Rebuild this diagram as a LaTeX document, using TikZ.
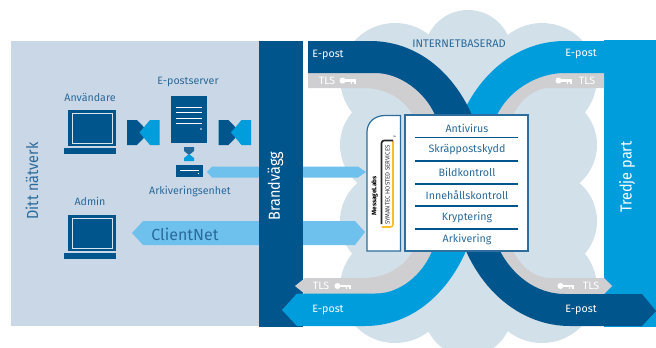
\documentclass[tikz,border=0pt]{standalone}
\usepackage{fontspec}
\setmainfont{Fira Sans}
\newfontfamily\bigf[FakeStretch=0.9]{Fira Sans}
\definecolor{dk}{HTML}{00558C}
\definecolor{lb}{HTML}{009DDC}
\definecolor{sky}{HTML}{6EC1ED}
\definecolor{pan}{HTML}{CAD7E6}
\definecolor{gr}{HTML}{CFCFD1}
\definecolor{cl}{HTML}{D2E0E9}
\definecolor{tx}{HTML}{2A6A9A}
\definecolor{bd}{HTML}{2E6E9E}
\definecolor{gold}{HTML}{F5C02C}
\tikzset{
 lab/.style={text=tx,font=\fontsize{8}{9}\selectfont,inner sep=0pt},
 wlab/.style={text=white,font=\fontsize{8}{9}\selectfont,inner sep=0pt},
 svc/.style={text=tx,font=\fontsize{8}{9}\selectfont,inner sep=0pt},
 big/.style={font=\bigf\fontsize{12}{14}\selectfont,inner sep=0pt,rotate=90},
 sep/.style={dk,line width=1.4pt},
 whl/.style={white,line width=0.7pt}
}
\newcommand{\mylaptop}[2]{% x offset, y offset (reference: top 0 at screen top)
 \begin{scope}[shift={(#1,#2)}]
 \fill[dk] (4,0) rectangle (52,36);
 \draw[white!85!dk,line width=0.6pt] (8,3.5) rectangle (48,33);
 \fill[dk] (0,38) rectangle (52,43.5);
 \end{scope}}
\newcommand{\mytie}[2]{%
 \begin{scope}[shift={(#1,#2)}]
 \fill[dk] (0,0) -- (10,0) -- (22,12.5) -- (10,25) -- (0,25) -- cycle;
 \fill[lb] (32.5,0) -- (23,0) -- (12.5,12.5) -- (23,25) -- (32.5,25) -- cycle;
 \end{scope}}
\newcommand{\keyicon}[2]{%
 \fill[white] (#1-6.5,#2) circle (3);
 \fill[white] (#1-6,#2-1.2) rectangle (#1+6.5,#2+1.2);
 \fill[white] (#1+1.5,#2) rectangle (#1+3.2,#2+3);
 \fill[white] (#1+4.5,#2) rectangle (#1+6.5,#2+3);}
\begin{document}
\begin{tikzpicture}[x=0.75pt,y=-0.75pt]
\useasboundingbox (0,0) rectangle (656,347);
% cloud
\fill[cl] (468,54) circle (44) (395,78) circle (55) (542,78) circle (55)
 (390,145) circle (50) (547,145) circle (50) (390,221) circle (50) (547,221) circle (50)
 (395,288) circle (55) (542,288) circle (55) (468,312) circle (44);
\fill[cl] (380,60) rectangle (560,305);
% left panel
\fill[pan] (11,41) rectangle (259,326);
% right panel
\fill[lb] (604,40) rectangle (656,327);
% sky arrows
\fill[sky] (207,172) -- (212,166.5) -- (358,166.5) -- (366,172) -- (358,177.5) -- (212,177.5) -- cycle;
\fill[sky] (132,233) -- (143,221) -- (355,221) -- (365,232) -- (355,245) -- (143,245) -- cycle;
% firewall
\fill[dk] (259,41) rectangle (303,327);
% gray bands
\fill[gr] (308,73) -- (375,73) .. controls (400,73) and (425,92) .. (435,115) -- (413,115)
 .. controls (403,98) and (385,88) .. (363,88) -- (308,88) -- cycle;
\fill[gr] (604,73) -- (565,73) .. controls (535,73) and (508,92) .. (497,115) -- (513,115)
 .. controls (522,98) and (535,88) .. (550,88) -- (604,88) -- cycle;
\fill[gr] (295,286) -- (305,278) -- (363,278) .. controls (385,278) and (403,268) .. (413,251)
 -- (435,251) .. controls (425,274) and (400,294) .. (375,294) -- (305,294) -- cycle;
\fill[gr] (612,286) -- (604,278) -- (550,278) .. controls (535,278) and (522,268) .. (513,251)
 -- (497,251) .. controls (508,274) and (535,294) .. (565,294) -- (604,294) -- cycle;
% light bands
\fill[lb] (604,41) -- (565,41) .. controls (520,41) and (482,70) .. (462,115) -- (497,115)
 .. controls (508,92) and (535,73) .. (565,73) -- (604,73) -- cycle;
\fill[lb] (282,310) -- (297,293.5) -- (375,293.5) .. controls (400,294) and (423,274) .. (432,251)
 -- (466,251) .. controls (446,296) and (410,326) .. (365,326) -- (297,326) -- cycle;
% dark bands
\fill[dk] (308,41) -- (370,41) .. controls (415,41) and (452,70) .. (472,115) -- (435,115)
 .. controls (425,92) and (400,73) .. (375,73) -- (308,73) -- cycle;
\fill[dk] (656,311) -- (642,326) -- (570,326) .. controls (525,326) and (486,296) .. (466,251)
 -- (500,251) .. controls (512,274) and (535,294) .. (565,294) -- (642,294) -- cycle;
% boxes
\draw[bd,fill=white,line width=0.9pt] (405,115) rectangle (528,251);
\draw[bd,fill=white,line width=0.9pt] (367,251) -- (367,132) .. controls (367,122) and (375,115.5) .. (385,115.5) -- (400.5,115.5) -- (400.5,251) -- cycle;
\foreach \yy in {137.5,160.7,184,205.7,229}{\draw[sep] (415,\yy) -- (518,\yy);}
\node[svc] (s1) at (467,128) {Antivirus};
\node[svc] (s2) at (467,150) {Skräppostskydd};
\node[svc] (s3) at (467,172) {Bildkontroll};
\node[svc] (s4) at (467,195) {Innehållskontroll};
\node[svc] (s5) at (467,217) {Kryptering};
\node[svc] (s6) at (467,239) {Arkivering};
% logo
\draw[gold,line width=1.2pt,rounded corners=2pt] (393,141) -- (393,227) -- (381.5,227);
\draw[black!85,line width=1.2pt,rounded corners=2pt] (393,140.5) -- (381.5,140.5) -- (381.5,224);
\node[rotate=90,inner sep=0pt,font=\fontsize{4.9}{6}\selectfont\bfseries,text=black] (ml) at (374.5,196) {MessageLabs};
\node[rotate=90,inner sep=0pt,font=\fontsize{4.6}{5}\selectfont,text=black!80] (sy) at (387.5,185) {SYMANTEC HOSTED SERVICES};
\node[inner sep=0pt,font=\fontsize{2.5}{3}\selectfont,text=black!80] (tm) at (394.5,137) {™};
% big labels
\node[big,text=tx] (dn) at (32,181) {Ditt nätverk};
\node[big,text=white] (bv) at (275.5,186) {Brandvägg};
\node[big,text=white] (tp) at (627,177) {Tredje part};
% icons
\mylaptop{64}{110}
\mylaptop{64}{215}
\mytie{127}{120}
\mytie{218.5}{120}
\fill[dk] (171,96) rectangle (207,143);
\foreach \yy in {107,112.5,118,123}{\draw[whl] (176,\yy) -- (202,\yy);}
\fill[white] (201,129) circle (0.9);
\fill[tx!85!dk] (184,147) -- (194,147) -- (194,151) -- (189,155) -- (184,151) -- cycle;
\fill[lb] (189,154) -- (194,158) -- (194,161) -- (184,161) -- (184,158) -- cycle;
\fill[dk] (176,165) rectangle (203,177);
\draw[whl] (180,170.5) -- (199,170.5);
\fill[white] (198.5,173.5) circle (0.7);
% labels
\node[lab] (l1) at (90,97) {Användare};
\node[lab] (l2) at (188,82) {E-postserver};
\node[lab] (l3) at (190,191) {Arkiveringsenhet};
\node[lab] (l4) at (90,201) {Admin};
\node[text=tx,font=\fontsize{12}{14}\selectfont,inner sep=0pt] (cn) at (185,234) {ClientNet};
\node[text=tx,font=\fontsize{8.3}{9}\selectfont,inner sep=0pt] (ib) at (459,44) {INTERNETBASERAD};
\node[wlab] (e1) at (328,55) {E-post};
\node[wlab] (e2) at (581,54) {E-post};
\node[wlab] (e3) at (328,310) {E-post};
\node[wlab] (e4) at (581,310) {E-post};
\node[wlab] (t1) at (327,81) {TLS};
\node[wlab] (t2) at (587,81) {TLS};
\node[wlab] (t3) at (321,286) {TLS};
\node[wlab] (t4) at (591,286) {TLS};
\keyicon{349}{80.5}
\keyicon{565}{80.5}
\keyicon{344}{286}
\keyicon{567}{286}
\end{tikzpicture}
\end{document}
